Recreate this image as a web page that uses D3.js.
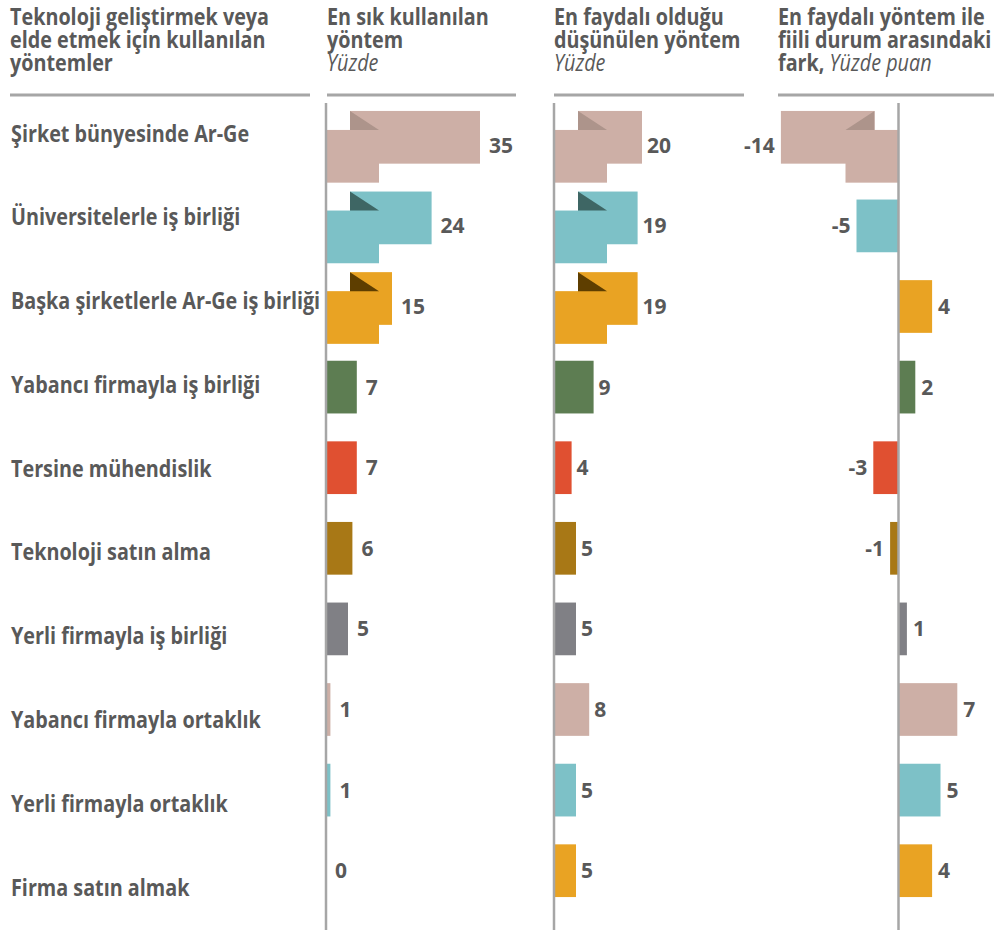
<!DOCTYPE html>
<html>
<head>
<meta charset="utf-8">
<script src="https://cdn.jsdelivr.net/npm/d3@7"></script>
<style>
  body { margin: 0; background: #fff; }
  svg { display: block; }
  text { font-family: "Open Sans", "Noto Sans", sans-serif; fill: #595959; }
</style>
</head>
<body>
<div id="chart"></div>
<script>
var categories = [
    "Şirket bünyesinde Ar-Ge",
    "Üniversitelerle iş birliği",
    "Başka şirketlerle Ar-Ge iş birliği",
    "Yabancı firmayla iş birliği",
    "Tersine mühendislik",
    "Teknoloji satın alma",
    "Yerli firmayla iş birliği",
    "Yabancı firmayla ortaklık",
    "Yerli firmayla ortaklık",
    "Firma satın almak"
];
var mostUsed = [35, 24, 15, 7, 7, 6, 5, 1, 1, 0];
var mostUseful = [20, 19, 19, 9, 4, 5, 5, 8, 5, 5];
var gapPoints = [-14, -5, 4, 2, -3, -1, 1, 7, 5, 4];

var header0 = ["Teknoloji geliştirmek veya", "elde etmek için kullanılan", "yöntemler"];
var header1 = ["En sık kullanılan", "yöntem"];
var header2 = ["En faydalı olduğu", "düşünülen yöntem"];
var header3 = ["En faydalı yöntem ile", "fiili durum arasındaki"];
var unitPct = "Yüzde";
var unitPts = "Yüzde puan";

var palette = ["#cdafa6", "#7dc1c7", "#e9a323", "#5d7d52", "#e05031",
               "#a87816", "#808085", "#cdafa6", "#7dc1c7", "#e9a323"];
var foldDark = ["#ad948b", "#3e6664", "#5e3e00"];

var svgWidth = 994;
var svgHeight = 930;
var squeeze = 0.86;   // text is a bit narrower than Open Sans

var svg = d3.select("#chart")
    .append("svg")
    .attr("width", svgWidth)
    .attr("height", svgHeight);

// bars and row labels use slightly different vertical spacing
var yBar = d3.scaleBand()
    .domain(categories)
    .range([105, 911])
    .paddingInner(0.346)
    .paddingOuter(0.173);

var yLabel = d3.scalePoint()
    .domain(categories)
    .range([141.5, 895.5]);

var pxPerUnit = 4.4;
var x1 = d3.scaleLinear().domain([0, 35]).range([326, 326 + 35 * pxPerUnit]);
var x2 = d3.scaleLinear().domain([0, 20]).range([554, 554 + 20 * pxPerUnit]);
var x3 = d3.scaleLinear().domain([-14, 7]).range([898.5 - 14 * 8.4, 898.5 + 7 * 8.4]);

function squeezedText(g, x, y, str, anchor) {
    return g.append("text")
        .attr("transform", `translate(${x},${y}) scale(${squeeze},1)`)
        .attr("text-anchor", anchor || "start")
        .text(str);
}

// headers
var headerGroup = svg.append("g")
    .attr("font-size", "23px")
    .attr("font-weight", 700);

header0.forEach(function(t, i) {
    squeezedText(headerGroup, 10, 25 + i * 23, t);
});

[[header1, 327, unitPct], [header2, 554, unitPct]].forEach(function(h) {
    h[0].forEach(function(t, i) {
        squeezedText(headerGroup, h[1], 25 + i * 23, t);
    });
    squeezedText(headerGroup, h[1], 71, h[2])
        .attr("font-weight", 400)
        .attr("font-style", "italic");
});

header3.forEach(function(t, i) {
    squeezedText(headerGroup, 778, 25 + i * 23, t);
});
var lastLine = squeezedText(headerGroup, 778, 71, "fark, ");
lastLine.append("tspan")
    .attr("font-weight", 400)
    .attr("font-style", "italic")
    .text(unitPts);

// header underlines
var rules = [[10, 310], [327, 516], [554, 744], [778, 994]];
svg.selectAll(".rule")
    .data(rules)
    .enter()
    .append("line")
    .attr("class", "rule")
    .attr("x1", d => d[0])
    .attr("x2", d => d[1])
    .attr("y1", 95)
    .attr("y2", 95)
    .attr("stroke", "#a6a6a6")
    .attr("stroke-width", 3);

// row labels
var labelGroup = svg.append("g")
    .attr("font-size", "23px")
    .attr("font-weight", 700);
categories.forEach(function(c) {
    squeezedText(labelGroup, 11, yLabel(c), c);
});

var columns = [
    { values: mostUsed, x: x1, folded: [0, 1, 2], labelGap: 9 },
    { values: mostUseful, x: x2, folded: [0, 1, 2], labelGap: 5 },
    { values: gapPoints, x: x3, folded: [0], labelGap: 6 }
];

var bh = yBar.bandwidth();

columns.forEach(function(col) {
    var x = col.x;
    var x0 = x(0);
    var g = svg.append("g");

    var rows = col.values.map(function(v, i) {
        return { v: v, i: i, cat: categories[i] };
    });

    // plain bars
    g.selectAll("rect.bar")
        .data(rows.filter(d => col.folded.indexOf(d.i) < 0))
        .enter()
        .append("rect")
        .attr("class", "bar")
        .attr("x", d => Math.min(x(d.v), x0))
        .attr("y", d => yBar(d.cat))
        .attr("width", d => Math.abs(x(d.v) - x0))
        .attr("height", bh)
        .attr("fill", d => palette[d.i]);

    // bars drawn with the folded corner
    rows.filter(d => col.folded.indexOf(d.i) >= 0).forEach(function(d) {
        var y0 = yBar(d.cat);
        var s = d.v >= 0 ? 1 : -1;
        var xe = x(d.v);
        var a = x0 + s * 24;
        var b = x0 + s * 53;
        var fg = g.append("g");
        fg.append("rect")
            .attr("x", Math.min(a, xe))
            .attr("y", y0 - 8)
            .attr("width", Math.abs(xe - a))
            .attr("height", bh)
            .attr("fill", palette[d.i]);
        fg.append("rect")
            .attr("x", Math.min(x0, b))
            .attr("y", y0 + 11)
            .attr("width", Math.abs(b - x0))
            .attr("height", bh)
            .attr("fill", palette[d.i]);
        fg.append("path")
            .attr("d", d3.line()([[a, y0 - 8], [a, y0 + 11], [b, y0 + 11]]))
            .attr("fill", foldDark[d.i]);
    });

    // zero line
    g.append("line")
        .attr("x1", x0)
        .attr("x2", x0)
        .attr("y1", 103)
        .attr("y2", svgHeight)
        .attr("stroke", "#a6a6a6")
        .attr("stroke-width", 2.5);

    // value labels
    g.selectAll("text.val")
        .data(rows)
        .enter()
        .append("text")
        .attr("class", "val")
        .attr("font-size", "21px")
        .attr("font-weight", 700)
        .attr("text-anchor", d => d.v < 0 ? "end" : "start")
        .attr("x", d => d.v < 0 ? x(d.v) - col.labelGap : x(d.v) + col.labelGap)
        .attr("y", d => yBar(d.cat) + bh / 2 + 7.5)
        .text(d => d.v);
});
</script>
</body>
</html>
